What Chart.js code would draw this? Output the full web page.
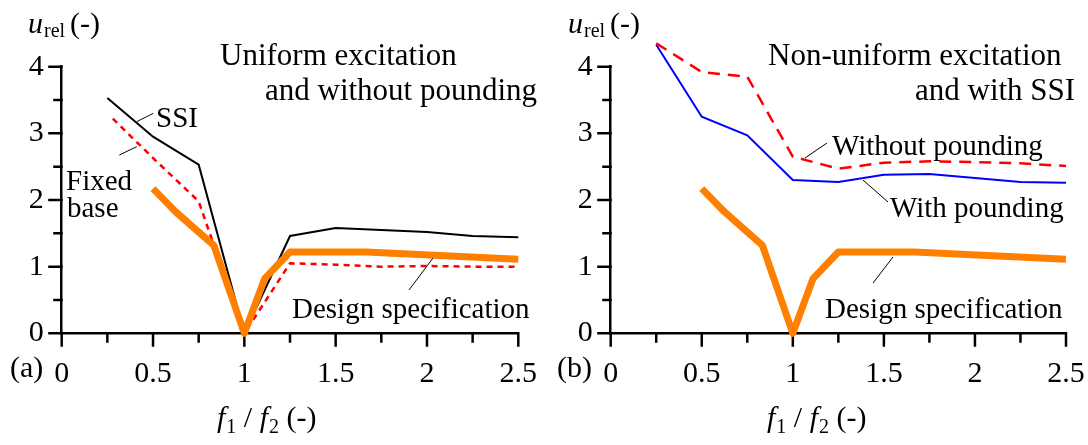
<!DOCTYPE html>
<html>
<head>
<meta charset="utf-8">
<script src="https://cdn.jsdelivr.net/npm/chart.js"></script>
<style>
  body { margin: 0; background: #fff; }
  #wrap { position: relative; width: 1088px; height: 445px; }
  canvas { position: absolute; top: 0; }
</style>
</head>
<body>
<div id="wrap">
  <canvas id="chartA" width="544" height="445" style="left:0"></canvas>
  <canvas id="chartB" width="544" height="445" style="left:544px"></canvas>
</div>
<script>
// (a) uniform excitation, without pounding
var ratioSSI = [0.25, 0.5, 0.75, 1, 1.25, 1.5, 1.75, 2, 2.25, 2.5];
var ssi = [3.53, 2.95, 2.53, 0, 1.46, 1.58, 1.55, 1.52, 1.46, 1.44];
var ratioFixed = [0.28, 0.5, 0.75, 1, 1.25, 1.5, 1.75, 2, 2.25, 2.5];
var fixedBase = [3.22, 2.63, 1.98, 0, 1.05, 1.03, 1.0, 1.01, 1.0, 1.0];

// design specification (same in both panels)
var ratioDesign = [0.5, 0.625, 0.833, 1, 1.111, 1.25, 1.667, 2.5];
var design = [2.17, 1.82, 1.32, 0, 0.82, 1.22, 1.22, 1.11];

// (b) non-uniform excitation, with SSI
var ratioNU = [0.25, 0.5, 0.75, 1, 1.25, 1.5, 1.75, 2, 2.25, 2.5];
var withoutPounding = [4.35, 3.92, 3.85, 2.65, 2.47, 2.56, 2.58, 2.57, 2.55, 2.51];
var withPounding = [4.33, 3.25, 2.97, 2.30, 2.27, 2.38, 2.39, 2.33, 2.27, 2.26];

var xTicks = [0, 0.5, 1, 1.5, 2, 2.5];
var yTicks = [0, 1, 2, 3, 4];

var serif = '"Liberation Serif", "Times New Roman", serif';

function pts(xs, ys) {
  return xs.map(function (x, i) { return { x: x, y: ys[i] }; });
}

function txt(ctx, s, x, y, size, italic) {
  ctx.font = (italic ? 'italic ' : '') + size + 'px ' + serif;
  ctx.fillText(s, x, y);
  return x + ctx.measureText(s).width;
}

function leader(ctx, x1, y1, x2, y2) {
  ctx.beginPath();
  ctx.moveTo(x1, y1);
  ctx.lineTo(x2, y2);
  ctx.stroke();
}

// tick marks: long for labelled ticks, short for the others, drawn outside
var tickMarks = {
  id: 'tickMarks',
  beforeDatasetsDraw: function (chart) {
    var ctx = chart.ctx, xs = chart.scales.x, ys = chart.scales.y, a = chart.chartArea;
    ctx.save();
    ctx.strokeStyle = '#000';
    ctx.lineWidth = 2.5;
    ctx.beginPath();
    xs.ticks.forEach(function (t) {
      var px = xs.getPixelForValue(t.value);
      ctx.moveTo(px, a.bottom - 1);
      ctx.lineTo(px, a.bottom + (xTicks.indexOf(t.value) >= 0 ? 13.5 : 9.5));
    });
    ys.ticks.forEach(function (t) {
      var py = ys.getPixelForValue(t.value);
      ctx.moveTo(a.left + 1, py);
      ctx.lineTo(a.left - (yTicks.indexOf(t.value) >= 0 ? 13.5 : 8.5), py);
    });
    ctx.stroke();
    ctx.restore();
  }
};

function makeChart(id, datasets, cfg) {
  var notes = {
    id: 'notes',
    afterDraw: function (chart) {
      var ctx = chart.ctx;
      ctx.save();
      ctx.fillStyle = '#000';
      ctx.textBaseline = 'alphabetic';
      ctx.textAlign = 'left';
      // y axis title
      var x = txt(ctx, 'u', cfg.uX, 33, 30, true);
      x = txt(ctx, 'rel', x + 1, 37, 20);
      txt(ctx, '(-)', x + 5, 33, 30);
      // x axis title
      x = txt(ctx, 'f', cfg.fX, 427, 30, true);
      x = txt(ctx, '1', x + 1, 433, 20);
      x = txt(ctx, ' / ', x, 427, 30);
      x = txt(ctx, 'f', x, 427, 30, true);
      x = txt(ctx, '2', x + 1, 433, 20);
      txt(ctx, ' (-)', x, 427, 30);
      // panel letter
      txt(ctx, cfg.letter, cfg.letterX, 377, 30);
      // titles and labels
      cfg.labels.forEach(function (l) { txt(ctx, l[0], l[1], l[2], l[3]); });
      ctx.strokeStyle = '#000';
      ctx.lineWidth = 1;
      cfg.leaders.forEach(function (l) { leader(ctx, l[0], l[1], l[2], l[3]); });
      ctx.restore();
    }
  };

  return new Chart(document.getElementById(id), {
    type: 'line',
    data: { datasets: datasets },
    options: {
      responsive: false,
      animation: false,
      layout: { padding: { top: 66.7, right: cfg.padRight, left: 0, bottom: 0 } },
      plugins: { legend: { display: false }, tooltip: { enabled: false } },
      elements: { point: { radius: 0 }, line: { tension: 0 } },
      scales: {
        x: {
          type: 'linear', min: 0, max: 2.5,
          grid: { display: false, drawTicks: false },
          border: { display: true, color: '#000', width: 2.5 },
          ticks: {
            stepSize: 0.25, autoSkip: false, maxRotation: 0, padding: 23, color: '#000',
            font: { family: serif, size: 30 },
            callback: function (v) { return xTicks.indexOf(v) >= 0 ? String(v) : ''; }
          },
          afterFit: function (s) {
            s.height = 445 - 333.3;
            s.paddingLeft = 0; s.paddingRight = 0;
          }
        },
        y: {
          type: 'linear', min: 0, max: 4,
          grid: { display: false, drawTicks: false },
          border: { display: true, color: '#000', width: 2.5 },
          ticks: {
            stepSize: 0.5, autoSkip: false, padding: 18, color: '#000',
            font: { family: serif, size: 30 },
            callback: function (v) { return yTicks.indexOf(v) >= 0 ? String(v) : ''; }
          },
          afterFit: function (s) {
            s.width = cfg.axisLeft;
            s.paddingTop = 0; s.paddingBottom = 0;
          }
        }
      }
    },
    plugins: [tickMarks, notes]
  });
}

makeChart('chartA', [
  { data: pts(ratioDesign, design), borderColor: '#ff8000', borderWidth: 7, borderJoinStyle: 'round', clip: false, order: 0 },
  { data: pts(ratioFixed, fixedBase), borderColor: '#ff0000', borderWidth: 2.5, borderDash: [6, 5], clip: false, order: 1 },
  { data: pts(ratioSSI, ssi), borderColor: '#000000', borderWidth: 2, clip: false, order: 2 }
], {
  axisLeft: 61.7, padRight: 25.7, uX: 28, fX: 217, letter: '(a)', letterX: 10,
  labels: [
    ['Uniform excitation', 220, 65, 31],
    ['and without pounding', 265, 100, 31],
    ['SSI', 156, 127, 29],
    ['Fixed', 66, 190, 29],
    ['base', 67, 217, 29],
    ['Design specification', 292, 318, 29]
  ],
  leaders: [
    [136.7, 121.7, 153.3, 113.3],
    [119.3, 155, 136.7, 146.7],
    [409, 290, 433, 258]
  ]
});

makeChart('chartB', [
  { data: pts(ratioDesign, design), borderColor: '#ff8000', borderWidth: 7, borderJoinStyle: 'round', clip: false, order: 0 },
  { data: pts(ratioNU, withoutPounding), borderColor: '#ff0000', borderWidth: 2.5, borderDash: [12, 8], clip: false, order: 1 },
  { data: pts(ratioNU, withPounding), borderColor: '#0000ff', borderWidth: 2, clip: false, order: 2 }
], {
  axisLeft: 66.7, padRight: 22, uX: 24, fX: 223, letter: '(b)', letterX: 13,
  labels: [
    ['Non-uniform excitation', 224, 65, 31],
    ['and with SSI', 371, 100, 31],
    ['Without pounding', 288, 155, 29],
    ['With pounding', 346, 217, 29],
    ['Design specification', 281, 318, 29]
  ],
  leaders: [
    [261, 158, 283, 143],
    [319, 180, 344, 202],
    [329, 283, 349, 257]
  ]
});
</script>
</body>
</html>
